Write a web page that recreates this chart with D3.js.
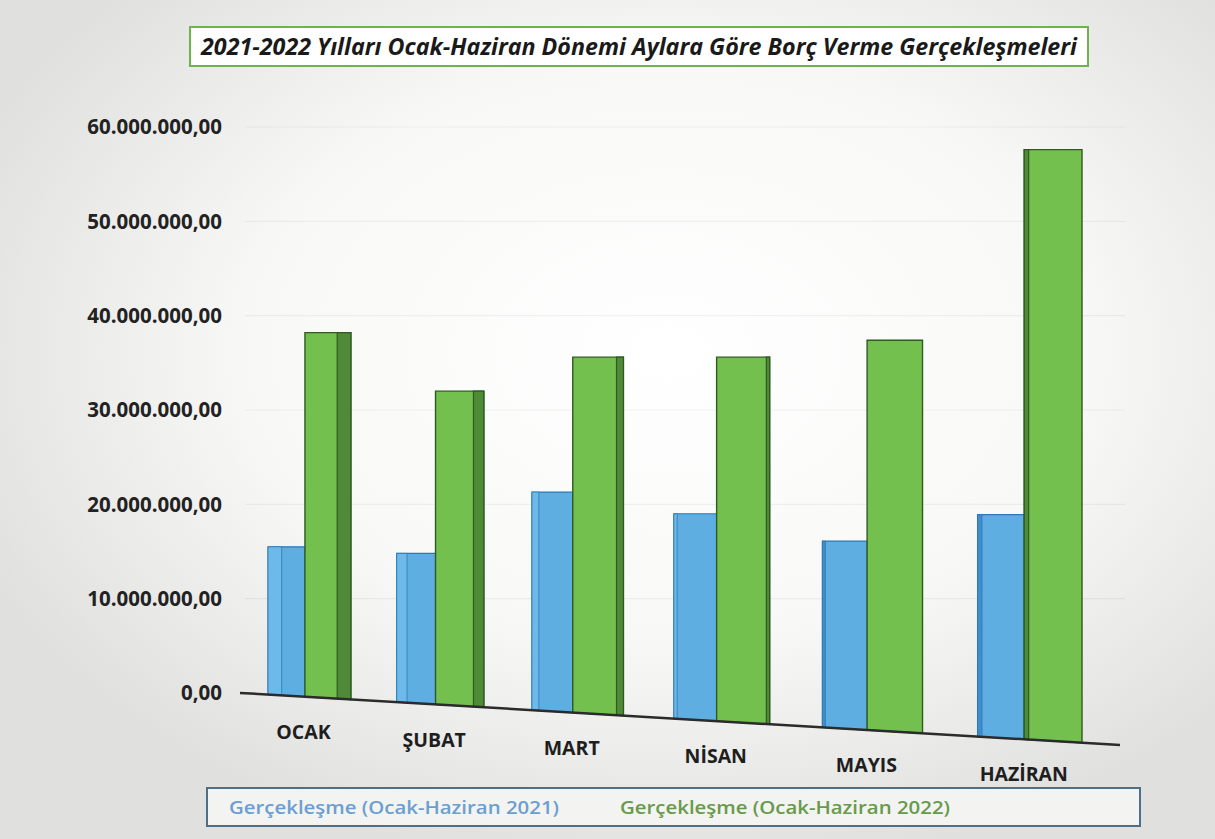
<!DOCTYPE html>
<html lang="tr">
<head>
<meta charset="utf-8">
<script src="https://cdn.jsdelivr.net/npm/d3@7"></script>
<style>
  body { margin: 0; background: #ececea; }
  svg { display: block; font-family: 'Open Sans', 'Noto Sans', sans-serif; }
</style>
</head>
<body>
<div id="app"></div>
<script>
const months = ['OCAK', 'ŞUBAT', 'MART', 'NİSAN', 'MAYIS', 'HAZİRAN'];
const values2021 = [15500000, 14800000, 21300000, 19000000, 16100000, 18900000];
const values2022 = [38200000, 32000000, 35600000, 35600000, 37400000, 57600000];
const yTicks = [0, 10000000, 20000000, 30000000, 40000000, 50000000, 60000000];
const seriesNames = ['Gerçekleşme (Ocak-Haziran 2021)', 'Gerçekleşme (Ocak-Haziran 2022)'];
const title = '2021-2022 Yılları Ocak-Haziran Dönemi Aylara Göre Borç Verme Gerçekleşmeleri';

const width = 1215;
const height = 839;

const trLocale = d3.formatLocale({ decimal: ',', thousands: '.', grouping: [3], currency: ['', ''] });
const formatTick = trLocale.format(',.2f');

const wrapper = d3.select('#app')
  .append('svg')
  .attr('width', width)
  .attr('height', height);

const defs = wrapper.append('defs');

// scanned paper look: white middle, grey edges
const bg = defs.append('radialGradient')
  .attr('id', 'paper')
  .attr('cx', '0.55').attr('cy', '0.42').attr('r', '0.62');
bg.append('stop').attr('offset', '0%').attr('stop-color', '#ffffff');
bg.append('stop').attr('offset', '55%').attr('stop-color', '#f8f8f7');
bg.append('stop').attr('offset', '100%').attr('stop-color', '#e0e0de');

wrapper.append('rect')
  .attr('width', width).attr('height', height)
  .attr('fill', 'url(#paper)');

// scales
const yScale = d3.scaleLinear().domain([0, 60000000]).range([693, 127]);

// band positions in a flat space, then bent a little for the perspective
const xBand = d3.scaleBand().domain(months).range([0, 1]).paddingInner(0.35).paddingOuter(0);
const plotLeft = 268;
const plotWidth = 814;
const bend = 0.13;
const warp = (u) => plotLeft + plotWidth * (u + bend * u * (u - 1));

// sloping floor of the 3d chart
const floor = d3.scaleLinear().domain([242, 1120]).range([693, 745]);
const vanishX = 875;
const depth = 0.025;

// gridlines
wrapper.append('g')
  .selectAll('line')
  .data(yTicks.slice(1))
  .join('line')
  .attr('x1', 245).attr('x2', 1125)
  .attr('y1', (d) => yScale(d)).attr('y2', (d) => yScale(d))
  .attr('stroke', 'rgba(0,0,0,0.05)')
  .attr('stroke-width', 1.2);

// y axis labels
wrapper.append('g')
  .selectAll('text')
  .data(yTicks)
  .join('text')
  .attr('x', 222)
  .attr('y', (d) => yScale(d))
  .attr('dy', '0.35em')
  .attr('text-anchor', 'end')
  .attr('font-size', 20.5)
  .attr('font-weight', 700)
  .attr('fill', '#222')
  .text((d) => formatTick(d));

const barPath = (x0, x1, v) => {
  const top = yScale(v);
  return `M${x0},${top}L${x1},${top}L${x1},${floor(x1)}L${x0},${floor(x0)}Z`;
};

const groups = months.map((m, i) => {
  const u0 = xBand(m);
  const u1 = u0 + xBand.bandwidth();
  const uMid = u0 + xBand.bandwidth() * 0.45;
  const gx0 = warp(u0);
  const gxm = warp(uMid);
  const gx1 = warp(u1);
  const side = depth * (vanishX - (gxm + gx1) / 2);
  return { month: m, v1: values2021[i], v2: values2022[i], gx0, gxm, gx1, side };
});

const bars = wrapper.append('g').attr('class', 'bars');

// 2021 bars
bars.selectAll('.bar-2021')
  .data(groups)
  .join('path')
  .attr('class', 'bar-2021')
  .attr('d', (d) => barPath(d.gx0, d.gxm, d.v1))
  .attr('fill', '#5eaee2')
  .attr('stroke', '#2f78b3')
  .attr('stroke-width', 1.2);

bars.selectAll('.bar-2021-strip')
  .data(groups)
  .join('path')
  .attr('class', 'bar-2021-strip')
  .attr('d', (d) => barPath(d.gx0, d.gx0 + Math.max(Math.abs(d.side), 3), d.v1))
  .attr('fill', (d) => (d.side > 0 ? '#6cb9ea' : '#3f8fcc'))
  .attr('stroke', '#2f78b3')
  .attr('stroke-width', 0.8);

// 2022 bars
bars.selectAll('.bar-2022')
  .data(groups)
  .join('path')
  .attr('class', 'bar-2022')
  .attr('d', (d) => barPath(d.gxm, d.gx1, d.v2))
  .attr('fill', '#74c04f')
  .attr('stroke', '#2f5a22')
  .attr('stroke-width', 1.4);

bars.selectAll('.bar-2022-side')
  .data(groups.filter((d) => Math.abs(d.side) > 1.5))
  .join('path')
  .attr('class', 'bar-2022-side')
  .attr('d', (d) => (d.side > 0
    ? barPath(d.gx1 - d.side, d.gx1, d.v2)
    : barPath(d.gxm, d.gxm - d.side, d.v2)))
  .attr('fill', '#4f8b37')
  .attr('stroke', '#2f5a22')
  .attr('stroke-width', 1.2);

// floor line
wrapper.append('line')
  .attr('x1', 240).attr('y1', floor(240))
  .attr('x2', 1120).attr('y2', floor(1120))
  .attr('stroke', '#2b2b2b')
  .attr('stroke-width', 2.5);

// month labels follow the floor
wrapper.append('g')
  .selectAll('text')
  .data(groups)
  .join('text')
  .attr('x', (d) => (d.gx0 + d.gx1) / 2 - 6)
  .attr('y', (d) => floor((d.gx0 + d.gx1) / 2) + 35)
  .attr('dy', '0.35em')
  .attr('text-anchor', 'middle')
  .attr('font-size', 19.5)
  .attr('font-weight', 700)
  .attr('fill', '#1e1e1e')
  .text((d) => d.month);

// title box
wrapper.append('rect')
  .attr('x', 190).attr('y', 27)
  .attr('width', 898).attr('height', 39)
  .attr('fill', '#ffffff')
  .attr('stroke', '#6db34f')
  .attr('stroke-width', 2);

wrapper.append('text')
  .attr('x', 639).attr('y', 47)
  .attr('dy', '0.35em')
  .attr('text-anchor', 'middle')
  .attr('font-size', 23)
  .attr('font-weight', 700)
  .attr('font-style', 'italic')
  .attr('fill', '#1a1a1a')
  .attr('textLength', 876)
  .attr('lengthAdjust', 'spacingAndGlyphs')
  .text(title);

// legend
wrapper.append('rect')
  .attr('x', 207).attr('y', 788)
  .attr('width', 933).attr('height', 38)
  .attr('fill', '#f3f3f2')
  .attr('stroke', '#4f6f86')
  .attr('stroke-width', 2);

const legendX = [229, 620];
const legendColors = ['#6b9fd1', '#689a4b'];
wrapper.append('g')
  .selectAll('text')
  .data(seriesNames)
  .join('text')
  .attr('x', (d, i) => legendX[i])
  .attr('y', 808)
  .attr('dy', '0.35em')
  .attr('font-size', 17.5)
  .attr('font-weight', 600)
  .attr('fill', (d, i) => legendColors[i])
  .attr('textLength', 330)
  .attr('lengthAdjust', 'spacingAndGlyphs')
  .text((d) => d);
</script>
</body>
</html>
